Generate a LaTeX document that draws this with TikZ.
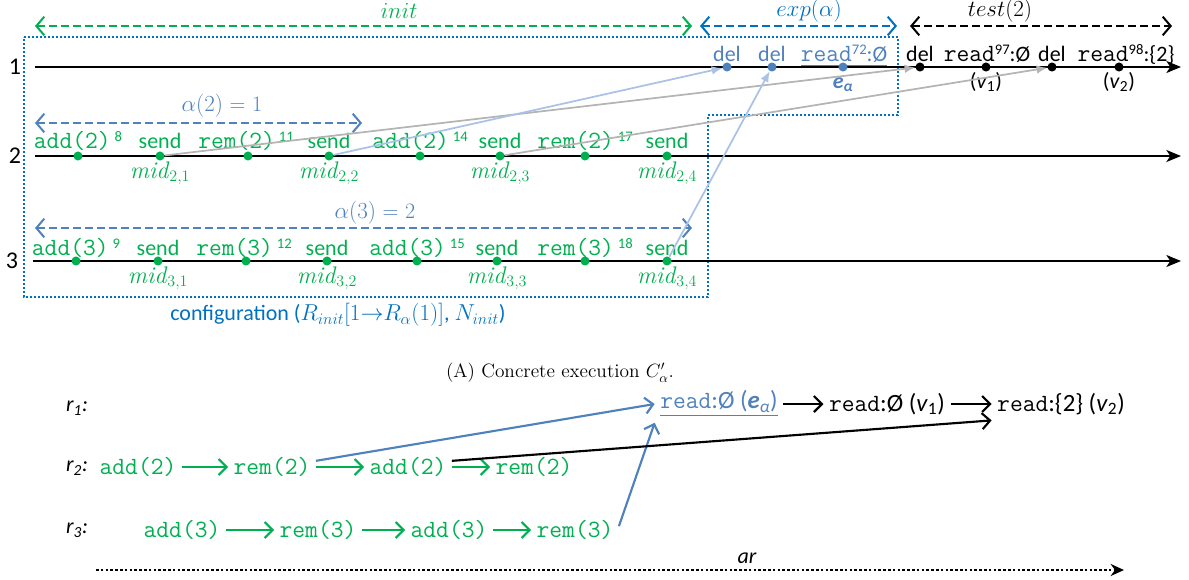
\documentclass[tikz,border=0pt]{standalone}
\usepackage{amsmath}
\usepackage{fontspec}
\setsansfont{Carlito}
\usetikzlibrary{arrows.meta}
\definecolor{cg}{HTML}{00B050}
\definecolor{cb}{HTML}{4F81BD}
\definecolor{cdb}{HTML}{0070C0}
\definecolor{clb}{HTML}{A9C2E6}
\definecolor{cgr}{HTML}{B4B4B4}
\newcommand{\supx}[1]{\raisebox{0.62ex}{\sffamily\fontsize{11}{12}\selectfont #1}}
\newcommand{\tx}[1]{{\ttfamily\fontsize{18.6}{20}\selectfont #1}}
\begin{document}
\begin{tikzpicture}[x=0.75pt,y=-0.75pt,
  sl/.style={font=\sffamily\fontsize{16.5}{19}\selectfont, inner sep=0pt, anchor=base},
  ml/.style={font=\ttfamily\fontsize{18.6}{20}\selectfont, inner sep=0pt, anchor=base},
  il/.style={font=\fontsize{16.5}{19}\selectfont, inner sep=0pt, anchor=base},
  midl/.style={font=\fontsize{18}{20}\selectfont, inner sep=0pt, anchor=base, text=cg},
  rl/.style={font=\sffamily\itshape\fontsize{16.5}{19}\selectfont, inner sep=0pt},
  bt/.style={font=\ttfamily\fontsize{18.6}{20}\selectfont, inner sep=4pt, text=cg},
  tline/.style={line width=1.5pt, -{Stealth[length=11pt,width=9pt,inset=3pt]}},
  evdot/.style={circle, fill=#1, inner sep=0pt, minimum size=6.8pt},
  msg/.style={line width=1.3pt, draw=#1, -{Latex[length=8pt,width=6.5pt]}},
  spanarr/.style={line width=1.5pt, draw=#1, dash pattern=on 6pt off 3pt,
     {Straight Barb[length=6pt,width=14pt]}-{Straight Barb[length=6pt,width=14pt]}},
  cfgbox/.style={draw=cdb, line width=1.3pt, dash pattern=on 1.3pt off 1.7pt},
  oarr/.style={line width=1.6pt, draw=#1, -{Straight Barb[length=6pt,width=12pt]}},
]
\useasboundingbox (0,0) rectangle (1189,579);

% configuration box
\draw[cfgbox] (24,37) -- (898,37) -- (898,115) -- (708,115) -- (708,297) -- (24,297) -- cycle;
\node[sl,anchor=center,text=cdb] (cfg) at (338,315) {configuration ($R_{init}[1{\to}R_{\alpha}(1)]$, $N_{init}$)};

% process labels and timelines
\node[sl,anchor=center,font=\sffamily\fontsize{18}{20}\selectfont] (p1) at (15,67) {1};
\node[sl,anchor=center,font=\sffamily\fontsize{18}{20}\selectfont] (p2) at (15,156) {2};
\node[sl,anchor=center,font=\sffamily\fontsize{18}{20}\selectfont] (p3) at (12,261) {3};
\coordinate (s1) at (35,67);  \coordinate (f1) at (1181,67);
\coordinate (s2) at (35,156); \coordinate (f2) at (1181,156);
\coordinate (s3) at (33,261); \coordinate (f3) at (1181,261);
\draw[tline] (s1) -- (f1);
\draw[tline] (s2) -- (f2);
\draw[tline] (s3) -- (f3);

% top spans
\coordinate (iA) at (35,26);  \coordinate (iB) at (692,26);
\coordinate (xA) at (700,26); \coordinate (xB) at (897,26);
\coordinate (tA) at (910,26); \coordinate (tB) at (1172,26);
\draw[spanarr=cg] (iA) -- (iB);
\draw[spanarr=cdb] (xA) -- (xB);
\draw[spanarr=black] (tA) -- (tB);
\node[il,anchor=center,text=cg] (initl) at (399,11) {$init$};
\node[il,anchor=center,text=cdb] (expl) at (809,11) {$exp(\alpha)$};
\node[il,anchor=center] (testl) at (1000,11) {$test(2)$};

% alpha spans
\coordinate (a2A) at (35,123); \coordinate (a2B) at (362,123);
\coordinate (a3A) at (35,228); \coordinate (a3B) at (692,228);
\draw[spanarr=cb] (a2A) -- (a2B);
\draw[spanarr=cb] (a3A) -- (a3B);
\node[il,anchor=center,text=cb] (a2l) at (222,106) {$\alpha(2)$ = 1};
\node[il,anchor=center,text=cb] (a3l) at (375,213) {$\alpha(3)$ = 2};

% line 1 events
\node[evdot=cb] (d1) at (727,67) {};
\node[evdot=cb] (d2) at (772,67) {};
\node[evdot=cb] (ea) at (843,67) {};
\node[evdot=black] (k1) at (920,67) {};
\node[evdot=black] (v1) at (986,67) {};
\node[evdot=black] (k2) at (1052,67) {};
\node[evdot=black] (v2) at (1119,67) {};
\node[sl,text=cb] (ld1) at (727,61) {del};
\node[sl,text=cb] (ld2) at (772,61) {del};
\node[sl,text=cb] (lea) at (844,61) {\underline{\tx{read}\supx{72}:Ø}};
\node[sl] (lk1) at (920,61) {del};
\node[sl] (lv1) at (987,61) {\tx{read}\supx{97}:Ø};
\node[sl] (lk2) at (1052,61) {del};
\node[sl] (lv2) at (1126,61) {\tx{read}\supx{98}:\{2\}};
\node[sl,text=cb] (nea) at (843,88) {\bfseries\itshape e\textsubscript{α}};
\node[sl] (nv1) at (986,88) {(\textit{v}\textsubscript{1})};
\node[sl] (nv2) at (1119,88) {(\textit{v}\textsubscript{2})};

% line 2 events
\foreach \n/\x in {1/78,2/160,3/248,4/329,5/420,6/500,7/585,8/667}
  \node[evdot=cg] (e2-\n) at (\x,156) {};
\node[ml,text=cg] (t2-1) at (78,148) {add(2)\hspace{3pt}\supx{8}};
\node[sl,text=cg] (t2-2) at (160,148) {send};
\node[ml,text=cg] (t2-3) at (246,148) {rem(2)\hspace{3pt}\supx{11}};
\node[sl,text=cg] (t2-4) at (329,148) {send};
\node[ml,text=cg] (t2-5) at (420,148) {add(2)\hspace{3pt}\supx{14}};
\node[sl,text=cg] (t2-6) at (500,148) {send};
\node[ml,text=cg] (t2-7) at (585,148) {rem(2)\hspace{3pt}\supx{17}};
\node[sl,text=cg] (t2-8) at (667,148) {send};
\node[midl] (m2-1) at (160,178) {\textit{mid}$_{2,1}$};
\node[midl] (m2-2) at (329,178) {\textit{mid}$_{2,2}$};
\node[midl] (m2-3) at (500,178) {\textit{mid}$_{2,3}$};
\node[midl] (m2-4) at (667,178) {\textit{mid}$_{2,4}$};

% line 3 events
\foreach \n/\x in {1/76,2/158,3/246,4/327,5/417,6/497,7/585,8/667}
  \node[evdot=cg] (e3-\n) at (\x,261) {};
\node[ml,text=cg] (t3-1) at (76,255) {add(3)\hspace{3pt}\supx{9}};
\node[sl,text=cg] (t3-2) at (158,255) {send};
\node[ml,text=cg] (t3-3) at (244,255) {rem(3)\hspace{3pt}\supx{12}};
\node[sl,text=cg] (t3-4) at (327,255) {send};
\node[ml,text=cg] (t3-5) at (417,255) {add(3)\hspace{3pt}\supx{15}};
\node[sl,text=cg] (t3-6) at (497,255) {send};
\node[ml,text=cg] (t3-7) at (585,255) {rem(3)\hspace{3pt}\supx{18}};
\node[sl,text=cg] (t3-8) at (667,255) {send};
\node[midl] (m3-1) at (158,283) {\textit{mid}$_{3,1}$};
\node[midl] (m3-2) at (327,283) {\textit{mid}$_{3,2}$};
\node[midl] (m3-3) at (497,283) {\textit{mid}$_{3,3}$};
\node[midl] (m3-4) at (667,283) {\textit{mid}$_{3,4}$};

% messages
\draw[msg=cgr] (e2-2) -- (k1);
\draw[msg=clb] (e2-4) -- (d1);
\draw[msg=cgr] (e2-6) -- (k2);
\draw[msg=clb] (e3-8) -- (d2);

% caption
\node[font=\rmfamily\fontsize{14.5}{16}\selectfont, inner sep=0pt] (cap) at (560,373) {(A) Concrete execution $C'_\alpha$.};

% bottom part
\node[rl] (r1) at (77,408) {r\textsubscript{1}:};
\node[rl] (r2) at (77,468) {r\textsubscript{2}:};
\node[rl] (r3) at (77,530) {r\textsubscript{3}:};

\node[bt] (b21) at (138,467) {add(2)};
\node[bt] (b22) at (272,467) {rem(2)};
\node[bt] (b23) at (408,467) {add(2)};
\node[bt] (b24) at (534,467) {rem(2)};
\node[bt] (b31) at (182,530) {add(3)};
\node[bt] (b32) at (318,530) {rem(3)};
\node[bt] (b33) at (449,530) {add(3)};
\node[bt] (b34) at (575,530) {rem(3)};
\draw[oarr=cg] (b21) -- (b22);
\draw[oarr=cg] (b22) -- (b23);
\draw[oarr=cg] (b23) -- (b24);
\draw[oarr=cg] (b31) -- (b32);
\draw[oarr=cg] (b32) -- (b33);
\draw[oarr=cg] (b33) -- (b34);

\node[bt,text=cb] (r1a) at (719,404) {\underline{read\textsf{:Ø (\textbf{\textit{e}}\textsubscript{\textit{α}})}}};
\node[bt,text=black] (r1b) at (887,404) {read\textsf{:Ø (\textit{v}\textsubscript{1})}};
\node[bt,text=black] (r1c) at (1061,404) {read\textsf{:\{2\} (\textit{v}\textsubscript{2})}};
\draw[oarr=black] (r1a) -- (r1b);
\draw[oarr=black] (r1b) -- (r1c);
\draw[oarr=cb] (b22.8) -- (r1a.west);
\draw[oarr=cb] (b34.5) -- (r1a.south west);
\draw[oarr=black] (b23.8) -- (r1c.south west);

\coordinate (arA) at (96,570); \coordinate (arB) at (1124,570);
\draw[line width=2pt, dash pattern=on 2pt off 1.6pt, -{Stealth[length=10pt,width=9pt]}] (arA) -- (arB);
\node[rl,anchor=base] (arl) at (747,563) {ar};
\end{tikzpicture}
\end{document}
